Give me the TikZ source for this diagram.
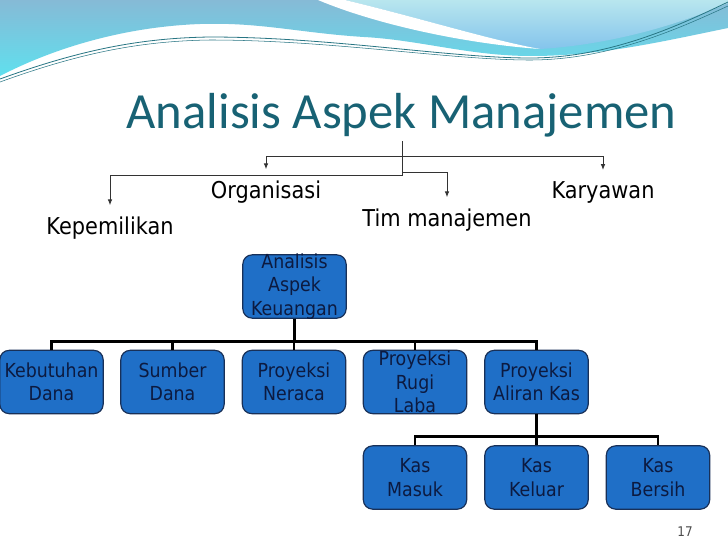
\documentclass[tikz,border=0pt]{standalone}
\usepackage{fontspec}
\setmainfont{DejaVu Sans}[FakeStretch=0.9]
\newfontfamily\titlefont{Carlito}
\usetikzlibrary{arrows.meta}
\definecolor{titleteal}{RGB}{24,98,116}
\definecolor{boxblue}{RGB}{31,111,199}
\definecolor{boxline}{RGB}{24,48,88}
\definecolor{boxink}{RGB}{12,26,64}
\definecolor{wavetop}{RGB}{134,186,214}
\definecolor{wavebot}{RGB}{96,224,238}
\definecolor{palecyan}{RGB}{184,230,238}
\definecolor{paleblue}{RGB}{132,196,236}
\definecolor{waveline}{RGB}{40,118,132}
\begin{document}
\begin{tikzpicture}[x=0.75pt,y=-0.75pt,
  box/.style={draw=boxline, line width=0.9pt, fill=boxblue, rounded corners=7pt, minimum width=77.5pt, minimum height=47.5pt, inner sep=0pt, align=center, text=boxink, font=\fontsize{14.5}{17.5}\selectfont},
  boxtext/.style={align=center, text=boxink, inner sep=0pt, font=\fontsize{14.5}{17.5}\selectfont},
  toplabel/.style={inner sep=0pt, anchor=base, font=\fontsize{17.4}{20}\selectfont},
  arr/.style={draw=black!80, line width=0.75pt, -{Latex[length=4.5pt,width=3.4pt]}, shorten >=8pt},
  link/.style={draw=black, line width=2.2pt}]

% background waves
\useasboundingbox (0,0) rectangle (728,546);
\fill[white] (0,0) rectangle (728,546);
\shade[top color=wavetop, bottom color=wavebot] (0,0) -- (728,0) -- (728,28) .. controls (660,42) and (600,56) .. (531,56) .. controls (470,56) and (420,40) .. (364,37) .. controls (300,33) and (260,22) .. (200,24) .. controls (120,27) and (50,50) .. (0,76) -- cycle;
\shade[top color=palecyan, bottom color=paleblue] (345,0) .. controls (420,18) and (490,40) .. (540,49) .. controls (620,44) and (690,20) .. (728,3) -- (728,0) -- cycle;
\fill[white] (318,0) .. controls (380,26) and (470,44) .. (540,49) .. controls (490,40) and (420,18) .. (345,0) -- cycle;
\draw[waveline, line width=0.6pt] (0,79) .. controls (80,50) and (140,38) .. (210,37) .. controls (330,37) and (450,58) .. (530,58) .. controls (610,58) and (680,25) .. (728,2);
\draw[waveline, line width=0.4pt] (0,82) .. controls (80,53) and (140,41) .. (210,40) .. controls (330,40) and (450,60) .. (530,60) .. controls (610,60) and (680,28) .. (728,6);

% title
\node[anchor=base, inner sep=0pt, text=titleteal, font=\titlefont\fontsize{38}{44}\selectfont] (title) at (401.5,128) {Analisis Aspek Manajemen};

% aspek manajemen
\coordinate (hub) at (402,141);
\node[toplabel] (org) at (266,198) {Organisasi};
\node[toplabel] (kar) at (603,198) {Karyawan};
\node[toplabel] (tim) at (447,226) {Tim manajemen};
\node[toplabel] (kep) at (110,234) {Kepemilikan};
\draw[arr] (hub) -- ++(0,34) -| (kep);
\draw[arr] (hub) ++(0,15) -| (org);
\draw[arr] (hub) ++(0,15) -| (kar);
\draw[arr] (hub) ++(0,31) -| (tim);

% aspek keuangan
\node[box] (ak) at (294.5,286.5) {};
\node[boxtext] (akt) at (ak) {Analisis\\Aspek\\Keuangan};
\node[box] (kd) at (51.5,382) {Kebutuhan\\Dana};
\node[box] (sd) at (172.5,382) {Sumber\\Dana};
\node[box] (pn) at (294,382) {Proyeksi\\Neraca};
\node[box] (prl) at (415,382) {};
\node[boxtext] (prlt) at (prl) {Proyeksi\\Rugi\\Laba};
\node[box] (pak) at (536.5,382) {Proyeksi\\Aliran Kas};
\node[box] (km) at (415,477.5) {Kas\\Masuk};
\node[box] (kk) at (536.5,477.5) {Kas\\Keluar};
\node[box] (kb) at (658,477.5) {Kas\\Bersih};
\foreach \n in {kd,sd,pn,prl,pak} \draw[link] (ak.south) -- ++(0,23) -| (\n.north);
\foreach \n in {km,kk,kb} \draw[link] (pak.south) -- ++(0,22) -| (\n.north);

\node[anchor=base, inner sep=0pt, text=black!70, font=\fontsize{10}{12}\selectfont] (pg) at (685,536) {17};
\end{tikzpicture}
\end{document}
